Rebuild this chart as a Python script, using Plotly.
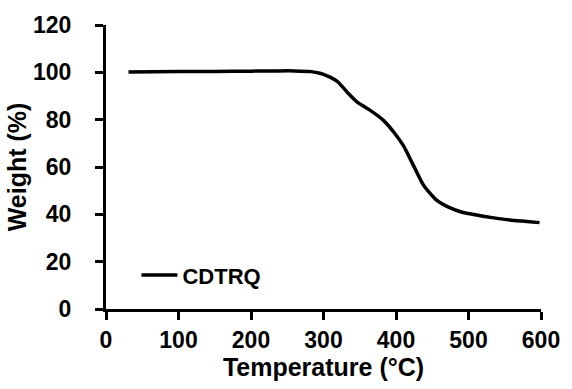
import plotly.graph_objects as go

temperature = [31, 100, 150, 200, 237, 260, 283, 295, 305, 319, 333, 347, 365, 383, 397, 410, 424, 438, 456, 474, 490, 511, 535, 557, 580, 598]
weight = [100.1, 100.3, 100.4, 100.5, 100.6, 100.6, 100.3, 99.6, 98.5, 96.2, 91.5, 87.3, 83.8, 79.6, 74.7, 69.1, 60.7, 52.3, 46.0, 42.8, 41.0, 39.7, 38.5, 37.6, 37.0, 36.5]
series_name = "CDTRQ"
x_ticks = [0, 100, 200, 300, 400, 500, 600]
y_ticks = [0, 20, 40, 60, 80, 100, 120]

FONT = "Liberation Sans, Arial, sans-serif"

fig = go.Figure()
fig.add_trace(go.Scatter(
    x=temperature, y=weight, mode="lines", name=series_name,
    line=dict(color="black", width=3.5, shape="spline", smoothing=0.6),
))

axis_common = dict(
    showgrid=False, zeroline=False, showline=True, linecolor="black", linewidth=3,
    ticks="outside", ticklen=8, tickwidth=3, tickcolor="black",
    tickfont=dict(family=FONT, size=23, color="black", weight="bold"),
)

fig.update_layout(
    width=572, height=389,
    margin=dict(l=106, r=26, t=23, b=80),
    paper_bgcolor="white", plot_bgcolor="white",
    showlegend=True,
    legend=dict(x=0.07, y=0.119, xanchor="left", yanchor="middle",
                bgcolor="rgba(0,0,0,0)", itemwidth=36,
                font=dict(family=FONT, size=22, color="black", weight="bold")),
    xaxis=dict(range=[0, 600], tickvals=x_ticks,
               title=dict(text="Temperature (°C)", standoff=6,
                          font=dict(family=FONT, size=25, color="black", weight="bold")),
               **axis_common),
    yaxis=dict(range=[0, 120], tickvals=y_ticks, ticklabelstandoff=19,
               title=dict(text="Weight (%)", standoff=0,
                          font=dict(family=FONT, size=25, color="black", weight="bold")),
               **axis_common),
)

fig.write_html("out.html")
